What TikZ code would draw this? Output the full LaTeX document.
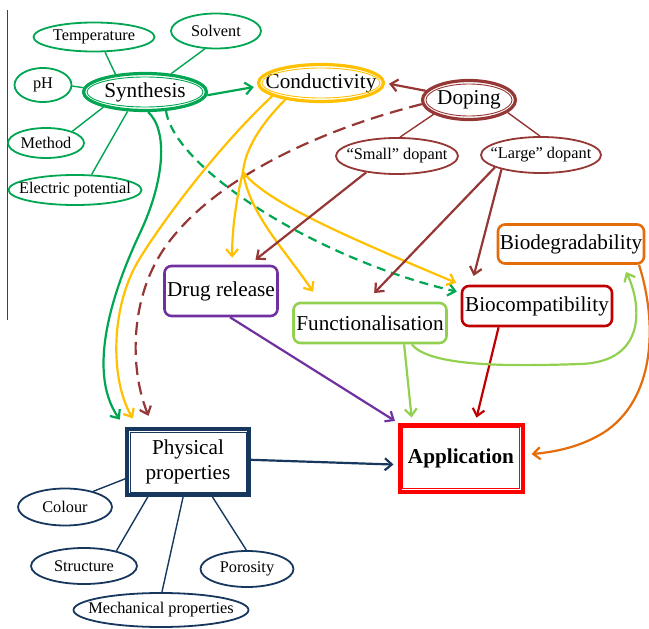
\documentclass[tikz,border=0pt]{standalone}
\usepackage{fontspec}
\setmainfont{Liberation Serif}
\usetikzlibrary{arrows.meta,shapes.geometric,calc}
\definecolor{cgreen}{RGB}{0,166,81}
\definecolor{cyellow}{RGB}{255,192,0}
\definecolor{cbrown}{RGB}{149,55,53}
\definecolor{cpurple}{RGB}{112,48,160}
\definecolor{clgreen}{RGB}{146,208,80}
\definecolor{cdred}{RGB}{192,0,0}
\definecolor{corange}{RGB}{228,108,10}
\definecolor{cnavy}{RGB}{23,55,94}
\definecolor{cred}{RGB}{255,0,0}
\newcommand\zerow[1]{\makebox[0pt]{#1}}
\begin{document}
\begin{tikzpicture}[x=1pt,y=-1pt,
  fs/.style={font=\fontsize{16.3}{18}\selectfont},
  fb/.style={font=\fontsize{21.2}{25}\selectfont},
  sell/.style={ellipse, draw, line width=1.8pt, inner sep=0pt, fs},
  dell/.style={ellipse, draw, line width=3.2pt, inner sep=0pt, fb},
  rbox/.style={rectangle, rounded corners=7pt, draw, line width=2.6pt, inner sep=0pt, fb},
  dbox/.style={rectangle, draw, line width=4pt, inner sep=0pt, fb, align=center},
  spoke/.style={line width=1.4pt},
  arr/.style={line width=2.2pt, -{Straight Barb[length=7pt,width=12pt]}},
  ]
\useasboundingbox (0,0) rectangle (649,629);
\draw[line width=0.8pt, black!75] (7,10) -- (7,320);

% nodes
\node[dell, cgreen, minimum width=123pt, minimum height=37pt] (synth) at (145,92) {\zerow{\color{black}Synthesis}};
\node[sell, cgreen, minimum width=121pt, minimum height=29pt] (temp) at (94,37) {\zerow{\color{black}Temperature}};
\node[sell, cgreen, minimum width=90pt, minimum height=35pt] (solv) at (216,31) {\zerow{\color{black}Solvent}};
\node[sell, cgreen, minimum width=57pt, minimum height=34pt] (ph) at (43,85) {\zerow{\color{black}pH}};
\node[sell, cgreen, minimum width=76pt, minimum height=30pt] (meth) at (46,143) {\zerow{\color{black}Method}};
\node[sell, cgreen, minimum width=133pt, minimum height=30pt] (elec) at (75,190) {\zerow{\color{black}Electric potential}};

\node[dell, cyellow, minimum width=125pt, minimum height=37pt] (cond) at (321,83) {\zerow{\color{black}Conductivity}};
\node[dell, cbrown, minimum width=93pt, minimum height=39pt] (dop) at (469,100) {\zerow{\color{black}Doping}};
\node[sell, cbrown, minimum width=122pt, minimum height=36pt] (small) at (397,156) {\zerow{\color{black}“Small” dopant}};
\node[sell, cbrown, minimum width=120pt, minimum height=36pt] (large) at (541,155) {\zerow{\color{black}“Large” dopant}};

\node[rbox, cpurple, minimum width=113pt, minimum height=50pt] (drug) at (221,291) {\color{black}Drug release};
\node[rbox, clgreen, minimum width=153pt, minimum height=40pt] (func) at (370,323) {\color{black}Functionalisation};
\node[rbox, cdred, minimum width=150pt, minimum height=40pt] (bioc) at (537,306) {\color{black}Biocompatibility};
\node[rbox, corange, minimum width=146pt, minimum height=39pt] (biod) at (571,244) {\color{black}Biodegradability};

\node[dbox, cnavy, minimum width=122pt, minimum height=66pt] (phys) at (188,462) {\color{black}Physical\\\color{black}properties};
\node[dbox, cred, minimum width=123pt, minimum height=67pt] (app) at (461,458) {\color{black}\textbf{Application}};

\node[sell, cnavy, minimum width=94pt, minimum height=37pt] (col) at (65,507) {\zerow{\color{black}Colour}};
\node[sell, cnavy, minimum width=106pt, minimum height=36pt] (struc) at (84,566) {\zerow{\color{black}Structure}};
\node[sell, cnavy, minimum width=93pt, minimum height=36pt] (poro) at (247,569) {\zerow{\color{black}Porosity}};
\node[sell, cnavy, minimum width=175pt, minimum height=34pt] (mech) at (161,610) {\zerow{\color{black}Mechanical properties}};

% inner lines of double outlines
\draw[cgreen, line width=0.9pt] (synth.center) ellipse [x radius=58pt, y radius=15pt];
\draw[cyellow, line width=0.9pt] (cond.center) ellipse [x radius=59pt, y radius=15pt];
\draw[cbrown, line width=0.9pt] (dop.center) ellipse [x radius=43pt, y radius=16pt];
\draw[cnavy, line width=1pt] ($(phys.north west)+(5,5)$) rectangle ($(phys.south east)+(-5,-5)$);
\draw[cred, line width=1pt] ($(app.north west)+(5,5)$) rectangle ($(app.south east)+(-5,-5)$);

% spokes
\draw[cgreen, spoke] (temp.-54) -- (synth.149);
\draw[cgreen, spoke] (solv.-122) -- (synth.35);
\draw[cgreen, spoke] (ph.-2) -- (synth.176);
\draw[cgreen, spoke] (meth.24) -- (synth.-160);
\draw[cgreen, spoke] (elec.43) -- (synth.-132);
\draw[cbrown, spoke] (dop.-158) -- (small.81);
\draw[cbrown, spoke] (dop.-18) -- (large.93);
\draw[cnavy, spoke] (phys.-165) -- (col.29);
\draw[cnavy, spoke] (phys.-139) -- (struc.25);
\draw[cnavy, spoke] (phys.-98) -- (mech.87);
\draw[cnavy, spoke] (phys.-55) -- (poro.92);

% arrows
\draw[cgreen, arr, shorten >=4pt] (synth.-3) -- (cond.-177);
\draw[cbrown, arr, shorten >=4pt] (dop.168) -- (cond.0);
\draw[cgreen, arr, dash pattern=on 9pt off 6pt, shorten >=4pt] (synth.-42) .. controls (175,170) and (320,260) .. (bioc.170);
\draw[cbrown, arr, dash pattern=on 13pt off 7pt, shorten >=12pt] (dop.-175) .. controls (300,135) and (200,190) .. (160,255) .. controls (130,304) and (130,370) .. (phys.135);
\draw[cgreen, arr, shorten >=9pt] (synth.-81) .. controls (168,130) and (165,180) .. (140,233) .. controls (115,286) and (85,370) .. (phys.north west);
\draw[cyellow, arr, shorten >=10pt] (cond.-165) .. controls (225,140) and (170,210) .. (140,258) .. controls (110,306) and (110,380) .. (phys.145);

\coordinate (br) at (243,172);
\draw[cyellow, line width=2.2pt] (cond.-155) .. controls (260,125) and (245,150) .. (br);
\draw[cyellow, arr, shorten >=7pt] (br) .. controls (236,200) and (232,230) .. (drug.67);
\draw[cyellow, arr, shorten >=12pt] (br) .. controls (250,215) and (285,250) .. (func.157);
\draw[cyellow, arr, shorten >=5pt] (br) .. controls (265,200) and (330,230) .. (bioc.north west);

\draw[cbrown, arr, shorten >=8pt] (small.-152) -- (drug.43);
\draw[cbrown, arr, shorten >=12pt] (large.-165) -- (func.101);
\draw[cbrown, arr, shorten >=9pt] (large.-160) -- (bioc.162);

\draw[cpurple, arr, shorten >=3pt] (drug.-71) -- (app.north west);
\draw[cnavy, arr, shorten >=4pt] (phys.2) -- (app.186);
\draw[clgreen, arr, shorten >=5pt] (func.-32) -- (app.144);
\draw[cdred, arr, shorten >=5pt] (bioc.-151) -- (app.68);
\draw[clgreen, arr, shorten >=8pt] (func.-27) .. controls (430,368) and (520,366) .. (580,364) .. controls (650,362) and (640,300) .. (biod.-22);
\draw[corange, arr, shorten >=7pt] (biod.-17) .. controls (658,325) and (655,400) .. (603,433) .. controls (580,447) and (555,452) .. (app.3);
\end{tikzpicture}
\end{document}
